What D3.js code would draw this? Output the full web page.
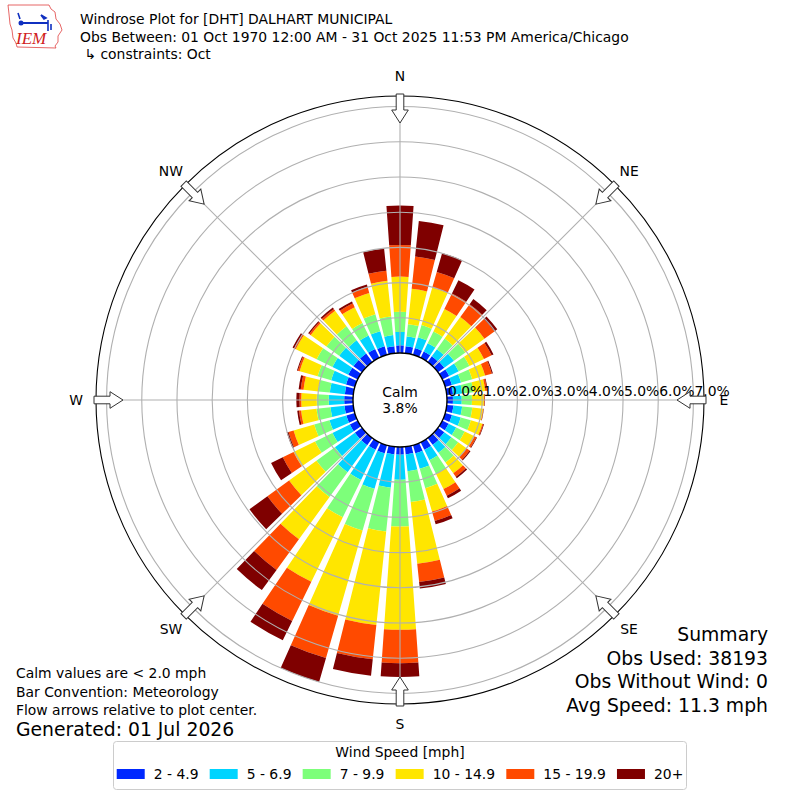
<!DOCTYPE html>
<html lang="en">
<head>
    <meta charset="UTF-8">
    <title>Windrose Plot - DHT</title>
    <script src="https://d3js.org/d3.v7.min.js"></script>
    <style>
        body {
            margin: 0;
            padding: 0;
            background-color: #fff;
        }
        svg text {
            font-family: "DejaVu Sans", sans-serif;
            fill: #000;
        }
    </style>
</head>
<body>
    <div id="chart"></div>

    <script>
        // directions (deg, meteorological: where wind blows from)
        const directions = [0, 10, 20, 30, 40, 50, 60, 70, 80, 90, 100, 110,
                            120, 130, 140, 150, 160, 170, 180, 190, 200, 210, 220, 230,
                            240, 250, 260, 270, 280, 290, 300, 310, 320, 330, 340, 350];
        const speedBins = ["2 - 4.9", "5 - 6.9", "7 - 9.9", "10 - 14.9", "15 - 19.9", "20+"];
        const binColors = ["#0028ff", "#00d4ff", "#7dff7a", "#ffe600", "#ff4a00", "#7f0000"];

        // frequency [%] per direction for each speed bin
        const s2to5 = [0.22, 0.20, 0.20, 0.20, 0.20, 0.22, 0.22, 0.20, 0.18, 0.17, 0.19, 0.20,
                       0.20, 0.22, 0.24, 0.24, 0.24, 0.22, 0.22, 0.22, 0.24, 0.24, 0.25, 0.25,
                       0.25, 0.25, 0.25, 0.25, 0.24, 0.26, 0.30, 0.30, 0.30, 0.28, 0.25, 0.20];
        const s5to7 = [0.38, 0.28, 0.32, 0.26, 0.25, 0.34, 0.30, 0.27, 0.26, 0.25, 0.25, 0.26,
                       0.24, 0.25, 0.28, 0.33, 0.46, 0.48, 0.71, 0.95, 1.05, 0.95, 0.95, 0.70,
                       0.55, 0.50, 0.40, 0.44, 0.43, 0.44, 0.50, 0.50, 0.46, 0.42, 0.45, 0.32];
        const s7to10 = [0.57, 0.35, 0.36, 0.37, 0.37, 0.40, 0.34, 0.33, 0.32, 0.29, 0.29, 0.30,
                        0.27, 0.24, 0.34, 0.43, 0.57, 0.88, 1.33, 1.25, 1.23, 1.18, 0.87, 0.65,
                        0.55, 0.45, 0.40, 0.34, 0.33, 0.40, 0.50, 0.45, 0.49, 0.40, 0.50, 0.53];
        const s10to15 = [1.00, 1.01, 1.11, 0.71, 0.76, 0.67, 0.46, 0.38, 0.34, 0.34, 0.31, 0.34,
                         0.31, 0.29, 0.38, 0.48, 0.69, 1.76, 2.93, 2.67, 2.52, 2.04, 1.48, 0.96,
                         0.68, 0.61, 0.44, 0.44, 0.42, 0.53, 0.66, 0.55, 0.55, 0.50, 0.63, 1.02];
        const s15to20 = [0.90, 0.92, 0.46, 0.49, 0.45, 0.35, 0.24, 0.20, 0.05, 0.02, 0.01, 0.03,
                         0.06, 0.11, 0.12, 0.21, 0.28, 0.52, 0.95, 0.98, 1.25, 1.24, 1.08, 0.76,
                         0.34, 0.15, 0.06, 0.05, 0.08, 0.05, 0.05, 0.05, 0.06, 0.12, 0.18, 0.29];
        const s20plus = [1.12, 1.02, 0.56, 0.42, 0.18, 0.10, 0.06, 0.03, 0.02, 0.01, 0.01, 0.02,
                         0.02, 0.03, 0.05, 0.08, 0.10, 0.19, 0.39, 0.47, 0.71, 0.61, 0.71, 0.63,
                         0.37, 0.05, 0.05, 0.09, 0.06, 0.03, 0.05, 0.04, 0.05, 0.06, 0.07, 0.63];

        const ringTicks = [0, 1, 2, 3, 4, 5, 6, 7];
        const compass = ["N", "NE", "E", "SE", "S", "SW", "W", "NW"];
        const compassAngles = [0, 45, 90, 135, 180, 225, 270, 315];

        const titleLines = ["Windrose Plot for [DHT] DALHART MUNICIPAL",
                            "Obs Between: 01 Oct 1970 12:00 AM - 31 Oct 2025 11:53 PM America/Chicago",
                            " \u21b3 constraints: Oct"];
        const notes = ["Calm values are < 2.0 mph", "Bar Convention: Meteorology",
                       "Flow arrows relative to plot center."];
        const generated = "Generated: 01 Jul 2026";
        const summary = ["Summary", "Obs Used: 38193", "Obs Without Wind: 0", "Avg Speed: 11.3 mph"];
        const calmPct = "3.8%";

        const W = 800, H = 800;
        const cx = 400, cy = 400;
        const rMaxPct = 7.3;
        const rInner = 47, rOuter = 304;
        const rad = Math.PI / 180;

        const svg = d3.select("#chart").append("svg")
            .attr("width", W)
            .attr("height", H);

        svg.append("rect").attr("width", W).attr("height", H).attr("fill", "#fff");

        // logo (rough)
        const logo = svg.append("g").attr("transform", "translate(0,0)");
        logo.append("path")
            .attr("d", "M8,5 L49,5 L51,9 L55,12 L56,19 L60,24 L62,30 L58,36 L58,42 L55,46 L56,48 L17,47 L16,43 L13,38 L12,30 L10,24 L9,14 Z")
            .attr("fill", "none").attr("stroke", "#e04040").attr("stroke-width", 0.8);
        logo.append("line").attr("x1", 21).attr("y1", 23).attr("x2", 48).attr("y2", 23)
            .attr("stroke", "#1030c0").attr("stroke-width", 2);
        logo.append("circle").attr("cx", 21).attr("cy", 23).attr("r", 2.5).attr("fill", "#1030c0");
        logo.append("path").attr("d", "M41,15 L46,18 L44,19 Z M48,20 L48,31 M51,24 L51,30 M18,13 L20,19")
            .attr("stroke", "#1030c0").attr("stroke-width", 1.6).attr("fill", "#1030c0");
        logo.append("text").attr("x", 16).attr("y", 44)
            .style("font-family", "'Liberation Serif', serif").style("font-style", "italic")
            .style("font-size", "17px").style("fill", "#d02020")
            .text("IEM");

        // title
        svg.append("g").selectAll("text").data(titleLines).join("text")
            .attr("x", 80)
            .attr("y", (d, i) => 24 + i * 17.5)
            .style("font-size", "13.9px")
            .style("white-space", "pre")
            .text(d => d);

        const r = d3.scaleLinear().domain([0, rMaxPct]).range([rInner, rOuter]);

        const table = directions.map((d, i) => ({
            dir: d,
            [speedBins[0]]: s2to5[i],
            [speedBins[1]]: s5to7[i],
            [speedBins[2]]: s7to10[i],
            [speedBins[3]]: s10to15[i],
            [speedBins[4]]: s15to20[i],
            [speedBins[5]]: s20plus[i]
        }));
        const stacked = d3.stack().keys(speedBins)(table);

        const polar = svg.append("g").attr("transform", `translate(${cx},${cy})`);

        const arc = d3.arc();
        const halfWidth = 4 * rad;

        stacked.forEach((layer, k) => {
            polar.append("g").selectAll("path").data(layer).join("path")
                .attr("fill", binColors[k])
                .attr("d", d => arc({
                    innerRadius: r(d[0]),
                    outerRadius: r(d[1]),
                    startAngle: d.data.dir * rad - halfWidth,
                    endAngle: d.data.dir * rad + halfWidth
                }));
        });

        // grid on top of bars
        const grid = polar.append("g");
        grid.selectAll("circle").data(ringTicks.slice(1)).join("circle")
            .attr("r", d => r(d))
            .attr("fill", "none").attr("stroke", "#b0b0b0").attr("stroke-width", 1.1);
        grid.selectAll("line").data(compassAngles).join("line")
            .attr("x1", d => rInner * Math.sin(d * rad))
            .attr("y1", d => -rInner * Math.cos(d * rad))
            .attr("x2", d => rOuter * Math.sin(d * rad))
            .attr("y2", d => -rOuter * Math.cos(d * rad))
            .attr("stroke", "#b0b0b0").attr("stroke-width", 1.1);

        polar.append("circle").attr("r", rOuter)
            .attr("fill", "none").attr("stroke", "#000").attr("stroke-width", 1.1);

        // calm circle
        polar.append("circle").attr("r", rInner)
            .attr("fill", "#fff").attr("stroke", "#000").attr("stroke-width", 1.4);
        polar.append("text").attr("y", -8).attr("text-anchor", "middle")
            .attr("dominant-baseline", "central").style("font-size", "13.9px").text("Calm");
        polar.append("text").attr("y", 8).attr("text-anchor", "middle")
            .attr("dominant-baseline", "central").style("font-size", "13.9px").text(calmPct);

        // ring labels
        polar.append("g").selectAll("text").data(ringTicks).join("text")
            .attr("x", d => r(d) + 1)
            .attr("y", -4)
            .style("font-size", "13.9px")
            .text(d => d.toFixed(1) + "%");

        // flow arrows pointing to the center
        const arrowPath = "M-3.8,-306 L3.8,-306 L3.8,-290 L8.3,-290 L0,-277 L-8.3,-290 L-3.8,-290 Z";
        polar.append("g").selectAll("path").data(compassAngles).join("path")
            .attr("d", arrowPath)
            .attr("transform", d => `rotate(${d})`)
            .attr("fill", "#fff").attr("stroke", "#333").attr("stroke-width", 1);

        // compass labels
        polar.append("g").selectAll("text").data(compass).join("text")
            .attr("x", (d, i) => 324 * Math.sin(compassAngles[i] * rad))
            .attr("y", (d, i) => -324 * Math.cos(compassAngles[i] * rad))
            .attr("text-anchor", "middle")
            .attr("dominant-baseline", "central")
            .style("font-size", "13.9px")
            .text(d => d);

        // notes bottom left
        svg.append("g").selectAll("text").data(notes).join("text")
            .attr("x", 16)
            .attr("y", (d, i) => 678 + i * 18.5)
            .style("font-size", "13.9px")
            .text(d => d);
        svg.append("text").attr("x", 16).attr("y", 736)
            .style("font-size", "18.8px").text(generated);

        // summary bottom right
        svg.append("g").selectAll("text").data(summary).join("text")
            .attr("x", 768)
            .attr("y", (d, i) => 641 + i * 23.5)
            .attr("text-anchor", "end")
            .style("font-size", "18.8px")
            .text(d => d);

        // legend
        const legend = svg.append("g");
        legend.append("rect")
            .attr("x", 113.5).attr("y", 741.5).attr("width", 573).attr("height", 48)
            .attr("rx", 3).attr("fill", "#fff").attr("stroke", "#cccccc").attr("stroke-width", 1);
        legend.append("text").attr("x", 400).attr("y", 757)
            .attr("text-anchor", "middle").style("font-size", "13.9px").text("Wind Speed [mph]");

        const items = legend.append("g");
        const textPad = 37, colGap = 11.2;
        let xPos = 0;
        speedBins.forEach((label, k) => {
            const g = items.append("g").attr("transform", `translate(${xPos},0)`);
            g.append("rect").attr("x", 0).attr("y", 769).attr("width", 28).attr("height", 10)
                .attr("fill", binColors[k]);
            const t = g.append("text").attr("x", textPad).attr("y", 779)
                .style("font-size", "13.9px").text(label);
            xPos += textPad + t.node().getComputedTextLength() + colGap;
        });
        const itemsWidth = xPos - colGap;
        items.attr("transform", `translate(${400 - itemsWidth / 2},0)`);
    </script>
</body>
</html>
